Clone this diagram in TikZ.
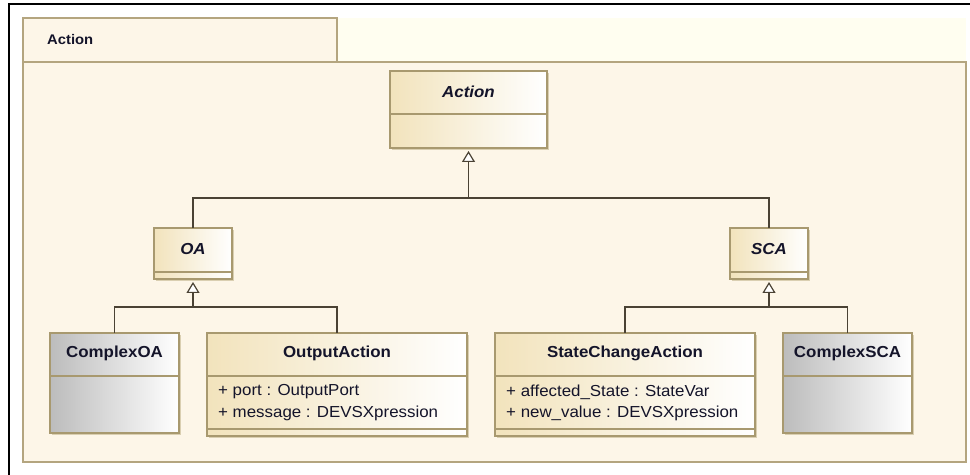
\documentclass[tikz,border=0pt]{standalone}
\usepackage{fontspec}
\setmainfont{Liberation Sans}[FakeStretch=1.06]
\usetikzlibrary{arrows.meta,shadows}
\definecolor{clsleft}{HTML}{F2E3BC}
\definecolor{clsborder}{HTML}{A8996F}
\definecolor{grayleft}{HTML}{BCBCBC}
\definecolor{pkgfill}{HTML}{FDF6E8}
\definecolor{pkgborder}{HTML}{B4A57F}
\definecolor{stripfill}{HTML}{FFFEF0}
\definecolor{txt}{HTML}{14142A}
\definecolor{conncol}{HTML}{4A4234}
\definecolor{shadowcol}{HTML}{D2C6A4}
\begin{document}
\begin{tikzpicture}[x=1bp,y=-1bp,
  pkg/.style={draw=pkgborder, fill=pkgfill, line width=1.2bp, inner sep=0, outer sep=0},
  strip/.style={fill=stripfill, draw=none, inner sep=0, outer sep=0},
  cls/.style={draw=clsborder, line width=1.2bp, left color=clsleft, right color=white,
    inner sep=0, outer sep=0,
    drop shadow={shadow xshift=1.6bp, shadow yshift=-1.6bp, fill=shadowcol, opacity=0.8}},
  gcls/.style={cls, left color=grayleft, right color=white},
  divline/.style={draw=clsborder, line width=1.2bp},
  ttl/.style={font=\fontsize{16}{19}\selectfont\bfseries, text=txt, inner sep=0},
  attr/.style={font=\fontsize{16}{19}\selectfont, text=txt, inner sep=0, anchor=west},
  tablabel/.style={font=\fontsize{14}{17}\selectfont\bfseries, text=txt, inner sep=0, anchor=west},
  conn/.style={draw=conncol, line width=1.2bp},
  gen/.style={-{Triangle[length=11bp, width=13bp, fill=white]}, shorten >=3bp}
]
\useasboundingbox (0,0) rectangle (970,475);
\fill[white] (0,0) rectangle (970,475);
% outer frame (top and left edges only)
\draw[black, line width=1.6bp] (9,475) -- (9,4) -- (970,4);

% package
\node[strip, minimum width=629bp, minimum height=44bp] (strip) at (651.5,40) {};
\node[pkg, minimum width=943bp, minimum height=400bp] (pkgbody) at (494.5,262) {};
\node[pkg, minimum width=314bp, minimum height=44bp] (pkgtab) at (180,40) {};
\node[tablabel] (pkglabel) at (47,39.5) {Action};

% classes
\node[cls, minimum width=157bp, minimum height=77bp] (action) at (468.5,109.5) {};
\node[cls, minimum width=78bp, minimum height=51bp] (oa) at (193,253.5) {};
\node[cls, minimum width=78bp, minimum height=51bp] (sca) at (769,253.5) {};
\node[gcls, minimum width=129bp, minimum height=100bp] (coa) at (114.5,383) {};
\node[cls, minimum width=260bp, minimum height=103bp] (out) at (337,384.5) {};
\node[cls, minimum width=260bp, minimum height=103bp] (sta) at (625,384.5) {};
\node[gcls, minimum width=129bp, minimum height=100bp] (csca) at (847.5,383) {};

% compartments
\draw[divline] (action.west |- 0,114) -- (action.east |- 0,114);
\draw[divline] (oa.west |- 0,272) -- (oa.east |- 0,272);
\draw[divline] (sca.west |- 0,272) -- (sca.east |- 0,272);
\draw[divline] (coa.west |- 0,376) -- (coa.east |- 0,376);
\draw[divline] (csca.west |- 0,376) -- (csca.east |- 0,376);
\draw[divline] (out.west |- 0,376) -- (out.east |- 0,376);
\draw[divline] (out.west |- 0,429) -- (out.east |- 0,429);
\draw[divline] (sta.west |- 0,376) -- (sta.east |- 0,376);
\draw[divline] (sta.west |- 0,429) -- (sta.east |- 0,429);

% titles
\node[ttl] (actiont) at (action.north |- 0,92) {\itshape Action};
\node[ttl] (oat) at (oa.north |- 0,249) {\itshape OA};
\node[ttl] (scat) at (sca.north |- 0,249) {\itshape SCA};
\node[ttl] (coat) at (coa.north |- 0,353.5) {ComplexOA};
\node[ttl] (cscat) at (csca.north |- 0,353.5) {ComplexSCA};
\node[ttl] (outt) at (out.north |- 0,353.5) {OutputAction};
\node[ttl] (stat) at (sta.north |- 0,353.5) {StateChangeAction};

% attributes
\node[attr] (outa1) at ([xshift=11bp]out.west |- 0,392) {+ port : OutputPort};
\node[attr] (outa2) at ([xshift=11bp]out.west |- 0,413) {+ message : DEVSXpression};
\node[attr] (staa1) at ([xshift=11bp]sta.west |- 0,392) {+ affected\_State : StateVar};
\node[attr] (staa2) at ([xshift=11bp]sta.west |- 0,413) {+ new\_value : DEVSXpression};

% generalizations
\coordinate (j0) at (action.south |- 0,198);
\draw[conn] (oa.north) |- (j0) -| (sca.north);
\draw[conn, gen] (j0) -- (action.south);

\coordinate (j1) at (oa.south |- 0,307);
\draw[conn] (coa.north) |- (j1) -| (out.north);
\draw[conn, gen] (j1) -- (oa.south);

\coordinate (j2) at (sca.south |- 0,307);
\draw[conn] (sta.north) |- (j2) -| (csca.north);
\draw[conn, gen] (j2) -- (sca.south);
\end{tikzpicture}
\end{document}
